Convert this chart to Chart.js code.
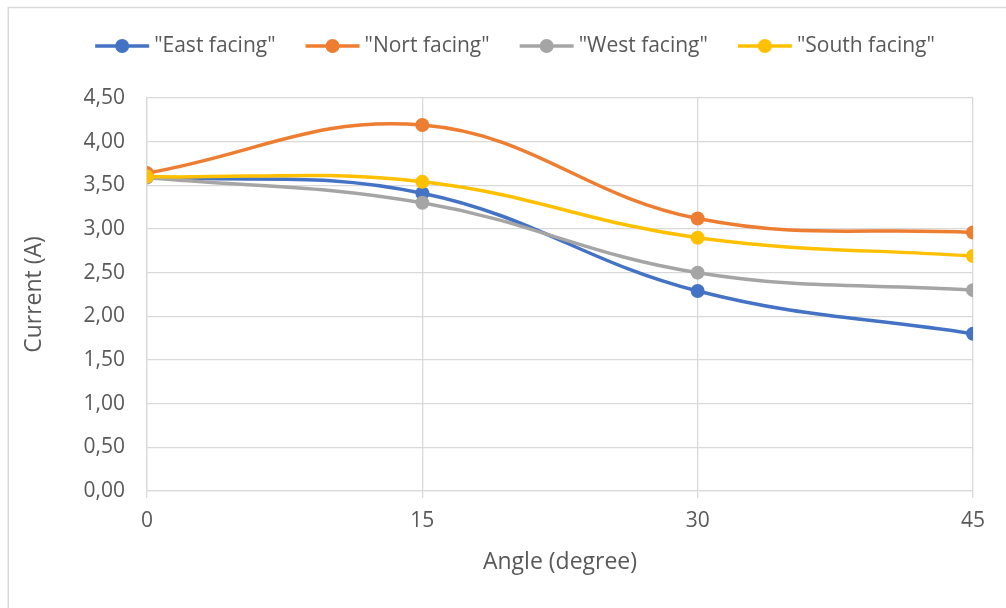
<!DOCTYPE html>
<html>
<head>
<meta charset="utf-8">
<script src="https://cdn.jsdelivr.net/npm/chart.js@4/dist/chart.umd.min.js"></script>
<style>
  html, body { margin: 0; padding: 0; background: #ffffff; }
  #wrap { position: relative; width: 1006px; height: 608px; }
</style>
</head>
<body>
<div id="wrap"><canvas id="chart" width="1006" height="608"></canvas></div>
<script>
// Angle of the panel (degrees) and measured current (A) per orientation
const angles = [0, 15, 30, 45];
const eastFacing  = [3.60, 3.41, 2.29, 1.80];
const northFacing = [3.64, 4.19, 3.12, 2.96];
const westFacing  = [3.59, 3.30, 2.50, 2.30];
const southFacing = [3.60, 3.54, 2.90, 2.69];

const seriesNames  = ['"East facing"', '"Nort facing"', '"West facing"', '"South facing"'];
const seriesValues = [eastFacing, northFacing, westFacing, southFacing];
const seriesColors = ['#4472C4', '#ED7D31', '#A5A5A5', '#FFC000'];

const FONT = "'Open Sans', 'Noto Sans', 'Liberation Sans', sans-serif";
const TEXT = '#595959';
const GRID = '#d9d9d9';

const datasets = seriesNames.map((name, i) => ({
  label: name,
  data: angles.map((a, k) => ({ x: a, y: seriesValues[i][k] })),
  borderColor: seriesColors[i],
  backgroundColor: seriesColors[i],
  borderWidth: 3.5,
  pointRadius: 7,
  pointBorderWidth: 0,
  pointBackgroundColor: seriesColors[i],
  tension: 0.4,
  fill: false,
  order: seriesNames.length - i   // later series are painted on top
}));

// Outer frame of the chart
const framePlugin = {
  id: 'frame',
  beforeDraw(chart) {
    const ctx = chart.ctx;
    ctx.save();
    ctx.strokeStyle = GRID;
    ctx.lineWidth = 1.5;
    ctx.beginPath();
    ctx.moveTo(8.25, chart.height);
    ctx.lineTo(8.25, 7.5);
    ctx.lineTo(chart.width, 7.5);
    ctx.stroke();
    ctx.restore();
  }
};

// Legend: a short line with a marker in the middle, followed by the series name
const lineLegendPlugin = {
  id: 'lineLegend',
  afterDraw(chart) {
    const ctx = chart.ctx;
    const sampleW = 54, gapText = 5, gapItem = 30, cy = 46, centerX = 515;
    ctx.save();
    ctx.font = '21px ' + FONT;
    ctx.textBaseline = 'middle';
    const items = chart.data.datasets.map(ds => ({
      ds, w: sampleW + gapText + ctx.measureText(ds.label).width
    }));
    const total = items.reduce((s, it) => s + it.w, 0) + gapItem * (items.length - 1);
    let x = centerX - total / 2;
    items.forEach(({ ds, w }) => {
      ctx.strokeStyle = ds.borderColor;
      ctx.lineWidth = 3.5;
      ctx.beginPath();
      ctx.moveTo(x, cy);
      ctx.lineTo(x + sampleW, cy);
      ctx.stroke();
      ctx.fillStyle = ds.borderColor;
      ctx.beginPath();
      ctx.arc(x + sampleW / 2, cy, 7, 0, Math.PI * 2);
      ctx.fill();
      ctx.fillStyle = TEXT;
      ctx.textAlign = 'left';
      ctx.fillText(ds.label, x + sampleW + gapText, cy);
      x += w + gapItem;
    });
    ctx.restore();
  }
};

new Chart(document.getElementById('chart'), {
  type: 'line',
  data: { datasets },
  options: {
    responsive: false,
    animation: false,
    devicePixelRatio: 1,
    layout: { padding: { left: 0, top: 98, right: 33, bottom: 20 } },
    plugins: {
      legend: { display: false },
      tooltip: { enabled: false }
    },
    scales: {
      x: {
        type: 'linear',
        min: 0,
        max: 45,
        ticks: {
          stepSize: 15,
          color: TEXT,
          font: { family: FONT, size: 21 },
          padding: 10
        },
        grid: { color: GRID, lineWidth: 1.3, drawTicks: true, tickLength: 7 },
        border: { color: GRID, width: 1.3 },
        title: {
          display: true,
          text: 'Angle (degree)',
          color: TEXT,
          font: { family: FONT, size: 23 },
          padding: { top: 0, bottom: 12 }
        },
        afterFit(scale) { scale.height = 97; }
      },
      y: {
        min: 0,
        max: 4.5,
        ticks: {
          stepSize: 0.5,
          color: TEXT,
          font: { family: FONT, size: 21 },
          padding: 22,
          callback: v => Number(v).toFixed(2).replace('.', ',')
        },
        grid: { color: GRID, lineWidth: 1.3, drawTicks: false },
        border: { color: GRID, width: 1.3 },
        title: {
          display: true,
          text: 'Current (A)',
          color: TEXT,
          font: { family: FONT, size: 23 },
          padding: { top: 21, bottom: 0 }
        },
        afterFit(scale) { scale.width = 147; }
      }
    }
  },
  plugins: [framePlugin, lineLegendPlugin]
});
</script>
</body>
</html>
